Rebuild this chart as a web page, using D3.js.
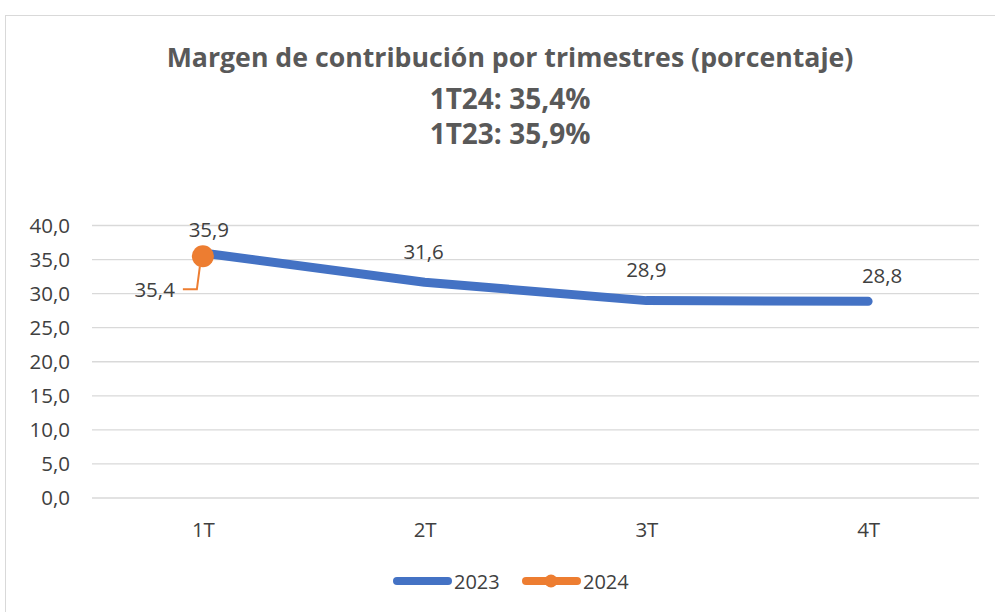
<!DOCTYPE html>
<meta charset="utf-8" />
<style>
  body { margin: 0; background: white; }
  .title { font-family: "Open Sans", sans-serif; font-weight: bold; fill: #595959; }
  .tick text, .label, .legend text { font-family: "Open Sans", sans-serif; fill: #404040; }
</style>
<body>
  <svg id="chart" width="995" height="612"></svg>
</body>
<script src="https://d3js.org/d3.v7.min.js"></script>
<script>
  // chart data
  const quarters = ["1T", "2T", "3T", "4T"];
  const values2023 = [35.9, 31.6, 28.9, 28.8];
  const values2024 = [35.4];
  const yTicks = [0, 5, 10, 15, 20, 25, 30, 35, 40];
  const titleLines = [
    "Margen de contribución por trimestres (porcentaje)",
    "1T24: 35,4%",
    "1T23: 35,9%",
  ];
  const seriesNames = ["2023", "2024"];

  // manual nudges of the 2023 data labels (dx, dy above the point)
  const labelDx = [6, -1, 0, 14];
  const labelDy = [23, 31, 31, 26];

  const blue = "#4472c4";
  const orange = "#ed7d31";
  const fmt = (v) => v.toFixed(1).replace(".", ",");

  const svg = d3.select("#chart");

  // outer chart border
  svg.append("rect")
    .attr("x", 5.5).attr("y", 15.5)
    .attr("width", 1000).attr("height", 620)
    .attr("fill", "white")
    .attr("stroke", "#d9d9d9");

  // title
  svg.selectAll(".title")
    .data(titleLines)
    .enter()
    .append("text")
    .attr("class", "title")
    .attr("x", 510)
    .attr("y", (d, i) => [67, 109, 144][i])
    .attr("text-anchor", "middle")
    .style("font-size", (d, i) => (i === 0 ? "26.7px" : "28px"))
    .text((d) => d);

  // scales
  const x = d3.scalePoint().domain(quarters).range([92, 979]).padding(0.5);
  const y = d3.scaleLinear().domain([0, 40]).range([497.5, 225]);

  // gridlines + y labels
  const yAxis = svg.append("g")
    .attr("transform", "translate(92,0)")
    .call(d3.axisLeft(y).tickValues(yTicks).tickFormat(fmt).tickSize(-887).tickPadding(22));
  yAxis.select(".domain").remove();
  yAxis.selectAll(".tick line").attr("stroke", "#d9d9d9").attr("stroke-width", 1.3);
  yAxis.selectAll(".tick text").style("font-size", "20.5px").attr("dy", "0.35em");

  // x labels
  const xAxis = svg.append("g")
    .attr("transform", "translate(0,497.5)")
    .call(d3.axisBottom(x).tickSize(0).tickPadding(25));
  xAxis.select(".domain").remove();
  xAxis.selectAll(".tick text").style("font-size", "20.5px");

  // 2023 line
  const line = d3.line().x((d, i) => x(quarters[i])).y((d) => y(d));
  svg.append("path")
    .datum(values2023)
    .attr("d", line)
    .attr("fill", "none")
    .attr("stroke", blue)
    .attr("stroke-width", 9)
    .attr("stroke-linecap", "round")
    .attr("stroke-linejoin", "round");

  // 2023 labels
  svg.selectAll(".lab23")
    .data(values2023)
    .enter()
    .append("text")
    .attr("class", "label")
    .attr("x", (d, i) => x(quarters[i]) + labelDx[i])
    .attr("y", (d, i) => y(d) - labelDy[i] + 7.5)
    .attr("text-anchor", "middle")
    .style("font-size", "20.5px")
    .text(fmt);

  // 2024 point, leader line and label
  values2024.forEach((v, i) => {
    const cx = x(quarters[i]);
    const cy = y(v);
    svg.append("path")
      .attr("d", `M${cx - 3},${cy + 10} L${cx - 6},${cy + 33} L${cx - 20},${cy + 33}`)
      .attr("fill", "none")
      .attr("stroke", orange)
      .attr("stroke-width", 2);
    svg.append("circle")
      .attr("cx", cx).attr("cy", cy).attr("r", 11)
      .attr("fill", orange);
    svg.append("text")
      .attr("class", "label")
      .attr("x", cx - 28)
      .attr("y", cy + 41)
      .attr("text-anchor", "end")
      .style("font-size", "20.5px")
      .text(fmt(v));
  });

  // legend
  const legend = svg.append("g").attr("class", "legend");
  const legendX = [393, 522];
  seriesNames.forEach((name, i) => {
    const lx = legendX[i];
    legend.append("line")
      .attr("x1", lx + 4).attr("x2", lx + 55)
      .attr("y1", 581).attr("y2", 581)
      .attr("stroke", i === 0 ? blue : orange)
      .attr("stroke-width", 8)
      .attr("stroke-linecap", "round");
    if (i === 1) {
      legend.append("circle")
        .attr("cx", lx + 29).attr("cy", 581).attr("r", 6.5)
        .attr("fill", orange);
    }
    legend.append("text")
      .attr("x", lx + 61)
      .attr("y", 588.5)
      .style("font-size", "20px")
      .text(name);
  });
</script>
